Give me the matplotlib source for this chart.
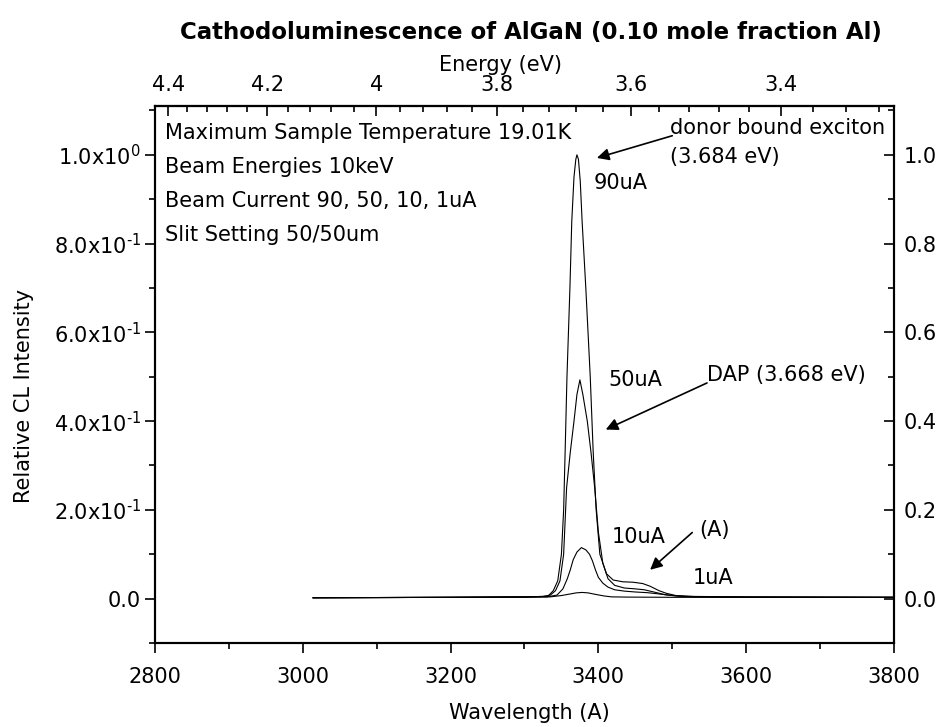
import numpy as np
import matplotlib
matplotlib.use('Agg')
import matplotlib.pyplot as plt
from matplotlib.ticker import MultipleLocator, FixedLocator

# spectra (wavelength in A, relative intensity)
wl_90 = [3014, 3200, 3300, 3325, 3332, 3339, 3345, 3350, 3353, 3355, 3357.5, 3361.5, 3364,
         3367, 3369.5, 3371, 3373, 3375.5, 3378, 3383, 3389, 3393, 3397, 3402, 3411, 3420,
         3433, 3447, 3460, 3470, 3482, 3492, 3505, 3530, 3600, 3800]
i_90 = [0.002, 0.003, 0.004, 0.005, 0.006, 0.018, 0.04, 0.10, 0.2, 0.33, 0.5, 0.7, 0.85,
        0.95, 0.99, 1.0, 0.99, 0.94, 0.85, 0.70, 0.50, 0.33, 0.2, 0.10, 0.056, 0.042,
        0.038, 0.037, 0.034, 0.028, 0.018, 0.012, 0.007, 0.005, 0.004, 0.003]

wl_50 = [3014, 3200, 3300, 3325, 3335, 3342, 3348, 3353, 3357, 3362, 3367, 3371, 3375, 3379,
         3385, 3390, 3395, 3400, 3406, 3413, 3422, 3435, 3450, 3462, 3475, 3490, 3505, 3530,
         3600, 3800]
i_50 = [0.002, 0.003, 0.004, 0.005, 0.008, 0.018, 0.04, 0.1, 0.25, 0.33, 0.40, 0.46, 0.493,
        0.46, 0.40, 0.33, 0.25, 0.15, 0.08, 0.045, 0.030, 0.024, 0.022, 0.02, 0.015, 0.009,
        0.006, 0.004, 0.003, 0.003]

wl_10 = [3014, 3200, 3300, 3330, 3344, 3352, 3358, 3362, 3366, 3371, 3377, 3383, 3388, 3392,
         3396, 3400, 3406, 3413, 3422, 3435, 3450, 3466, 3480, 3495, 3515, 3560, 3800]
i_10 = [0.002, 0.003, 0.004, 0.004, 0.008, 0.022, 0.045, 0.065, 0.088, 0.105, 0.115, 0.11,
        0.1, 0.085, 0.065, 0.048, 0.035, 0.026, 0.02, 0.017, 0.015, 0.0135, 0.011, 0.008,
        0.005, 0.004, 0.003]

wl_1 = [3014, 3200, 3300, 3335, 3350, 3360, 3370, 3378, 3386, 3398, 3408, 3418, 3440, 3500, 3800]
i_1 = [0.002, 0.003, 0.003, 0.004, 0.007, 0.01, 0.013, 0.014, 0.013, 0.009, 0.006, 0.004,
       0.0035, 0.003, 0.003]

left_ticks = [0.0, 0.2, 0.4, 0.6, 0.8, 1.0]
left_labels = ['0.0', r'2.0x10$^{\text{-1}}$', r'4.0x10$^{\text{-1}}$', r'6.0x10$^{\text{-1}}$',
               r'8.0x10$^{\text{-1}}$', r'1.0x10$^{\text{0}}$']
right_labels = ['0.0', '0.2', '0.4', '0.6', '0.8', '1.0']
energy_ticks = [4.4, 4.2, 4.0, 3.8, 3.6, 3.4]
energy_labels = ['4.4', '4.2', '4', '3.8', '3.6', '3.4']
energy_minor = [4.36, 4.32, 4.28, 4.24, 4.16, 4.12, 4.08, 4.04, 3.96, 3.92, 3.88, 3.84,
                3.76, 3.72, 3.68, 3.64, 3.56, 3.52, 3.48, 3.44, 3.36, 3.32, 3.28]
info_lines = ['Maximum Sample Temperature 19.01K', 'Beam Energies 10keV',
              'Beam Current 90, 50, 10, 1uA', 'Slit Setting 50/50um']

plt.rcParams['font.family'] = 'DejaVu Sans'
plt.rcParams['font.size'] = 15
plt.rcParams['axes.linewidth'] = 1.5


def to_ev(w):
    w = np.asarray(w, dtype=float)
    with np.errstate(divide='ignore'):
        return 12398.4 / w


fig = plt.figure(figsize=(9.45, 7.27), dpi=100)
ax = fig.add_axes([0.164, 0.1155, 0.782, 0.7387])

for w, i in [(wl_90, i_90), (wl_50, i_50), (wl_10, i_10), (wl_1, i_1)]:
    ax.plot(w, i, color='black', lw=0.8)

ax.set_xlim(2800, 3800)
ax.set_ylim(-0.1, 1.11)
ax.xaxis.set_major_locator(MultipleLocator(200))
ax.xaxis.set_minor_locator(MultipleLocator(100))
ax.tick_params(axis='x', which='both', direction='out', top=False, width=1.2)
ax.tick_params(axis='x', which='major', length=7, pad=10)
ax.tick_params(axis='x', which='minor', length=4)
ax.set_yticks(left_ticks)
ax.set_yticklabels(left_labels)
ax.yaxis.set_minor_locator(MultipleLocator(0.1))
ax.tick_params(axis='y', which='both', direction='out', right=False, width=1.2)
ax.tick_params(axis='y', which='major', length=7, pad=3)
ax.tick_params(axis='y', which='minor', length=4)

ax.set_xlabel('Wavelength (A)')
ax.xaxis.set_label_coords(0.507, -0.130)
ax.xaxis.label.set_va('center')
ax.set_ylabel('Relative CL Intensity')
ax.yaxis.set_label_coords(-0.177, 0.46)
ax.yaxis.label.set_va('center')

# right axis, same scale
ax2 = ax.twinx()
ax2.set_ylim(ax.get_ylim())
ax2.set_yticks(left_ticks)
ax2.set_yticklabels(right_labels)
ax2.yaxis.set_minor_locator(MultipleLocator(0.1))
ax2.tick_params(axis='y', which='both', direction='in', width=1.2)
ax2.tick_params(axis='y', which='major', length=7, pad=7)
ax2.tick_params(axis='y', which='minor', length=4)

# top energy axis
sec = ax.secondary_xaxis('top', functions=(to_ev, to_ev))
sec.set_xticks(energy_ticks)
sec.set_xticklabels(energy_labels)
sec.xaxis.set_minor_locator(FixedLocator(energy_minor))
sec.tick_params(axis='x', which='both', direction='in', width=1.2)
sec.tick_params(axis='x', which='major', length=7, pad=8)
sec.tick_params(axis='x', which='minor', length=4)
sec.set_xlabel('Energy (eV)')
sec.xaxis.set_label_coords(0.468, 1.076, transform=ax.transAxes)
sec.xaxis.label.set_va('center')

fig.text(0.562, 0.955, 'Cathodoluminescence of AlGaN (0.10 mole fraction Al)',
         ha='center', va='center', fontsize=16.5, fontweight='bold')

for k, line in enumerate(info_lines):
    ax.text(0.0135, 0.950 - 0.0633 * k, line, transform=ax.transAxes, ha='left', va='center')

arrow = dict(arrowstyle='-|>', color='black', lw=1.2, mutation_scale=18, shrinkA=0, shrinkB=0)
ax.text(3497, 1.061, 'donor bound exciton', ha='left', va='center')
ax.text(3497, 0.995, '(3.684 eV)', ha='left', va='center')
ax.annotate('', xy=(3398, 0.993), xytext=(3500, 1.043), arrowprops=arrow)
ax.text(3393, 0.937, '90uA', ha='left', va='center')
ax.text(3413, 0.493, '50uA', ha='left', va='center')
ax.text(3547, 0.505, 'DAP (3.668 eV)', ha='left', va='center')
ax.annotate('', xy=(3410, 0.381), xytext=(3547, 0.486), arrowprops=arrow)
ax.text(3418, 0.140, '10uA', ha='left', va='center')
ax.text(3537, 0.155, '(A)', ha='left', va='center')
ax.annotate('', xy=(3470, 0.065), xytext=(3527, 0.149), arrowprops=arrow)
ax.text(3527, 0.047, '1uA', ha='left', va='center')

fig.savefig('out.png', dpi=100)
